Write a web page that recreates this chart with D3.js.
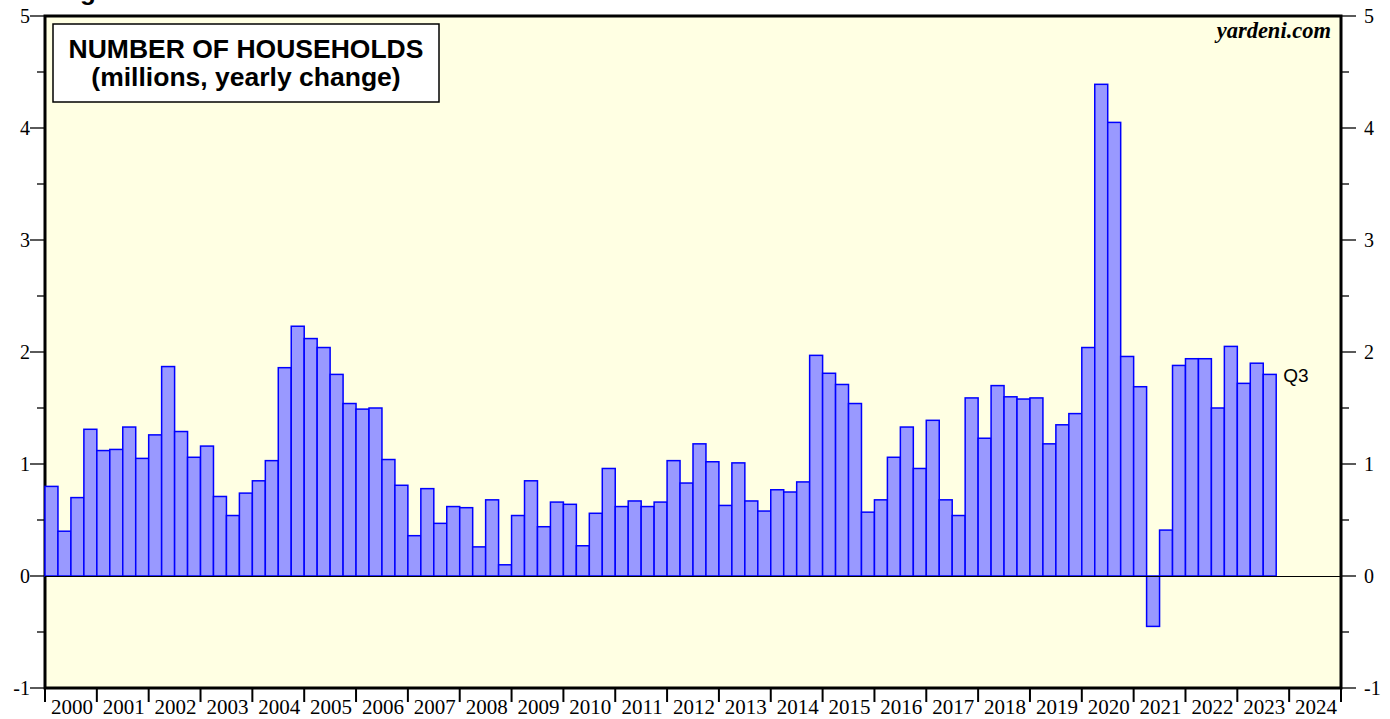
<!DOCTYPE html>
<html>
<head>
<meta charset="utf-8">
<script src="https://cdn.jsdelivr.net/npm/d3@7"></script>
<style>
  body { margin: 0; background: #fff; }
  svg { display: block; }
</style>
</head>
<body>
<svg id="chart" width="1390" height="719"></svg>
<script>
// quarterly yearly change in households, millions, starting 1999 Q4
var firstQuarter = 1999.75;
var values = [
  1.20,
  0.80, 0.40, 0.70, 1.31,
  1.12, 1.13, 1.33, 1.05,
  1.26, 1.87, 1.29, 1.06,
  1.16, 0.71, 0.54, 0.74,
  0.85, 1.03, 1.86, 2.23,
  2.12, 2.04, 1.80, 1.54,
  1.49, 1.50, 1.04, 0.81,
  0.36, 0.78, 0.47, 0.62,
  0.61, 0.26, 0.68, 0.10,
  0.54, 0.85, 0.44, 0.66,
  0.64, 0.27, 0.56, 0.96,
  0.62, 0.67, 0.62, 0.66,
  1.03, 0.83, 1.18, 1.02,
  0.63, 1.01, 0.67, 0.58,
  0.77, 0.75, 0.84, 1.97,
  1.81, 1.71, 1.54, 0.57,
  0.68, 1.06, 1.33, 0.96,
  1.39, 0.68, 0.54, 1.59,
  1.23, 1.70, 1.60, 1.58,
  1.59, 1.18, 1.35, 1.45,
  2.04, 4.39, 4.05, 1.96,
  1.69, -0.45, 0.41, 1.88,
  1.94, 1.94, 1.50, 2.05,
  1.72, 1.90, 1.80
];
var years = d3.range(2000, 2025);
var yMajor = [-1, 0, 1, 2, 3, 4, 5];
var yMinor = [-0.5, 0.5, 1.5, 2.5, 3.5, 4.5];

var svg = d3.select("#chart");
var plotL = 45, plotR = 1341, plotT = 16, plotB = 688;

var x = d3.scaleLinear().domain([2000, 2025]).range([plotL, plotR]);
var y = d3.scaleLinear().domain([-1, 5]).range([plotB, plotT]);

svg.append("defs").append("clipPath").attr("id", "plotclip")
  .append("rect").attr("x", plotL).attr("y", plotT)
  .attr("width", plotR - plotL).attr("height", plotB - plotT);

svg.append("rect")
  .attr("x", plotL).attr("y", plotT)
  .attr("width", plotR - plotL).attr("height", plotB - plotT)
  .attr("fill", "#ffffe3");

// frame (bars drawn over its left edge like the original)
svg.append("rect")
  .attr("x", plotL).attr("y", plotT)
  .attr("width", plotR - plotL).attr("height", plotB - plotT)
  .attr("fill", "none").attr("stroke", "#000").attr("stroke-width", 3);

// bars
svg.append("g")
  .selectAll("rect")
  .data(values)
  .enter()
  .append("rect")
    .attr("x", function(d, i){ return Math.max(plotL, x(firstQuarter + i / 4)) })
    .attr("width", function(d, i){ return x(firstQuarter + (i + 1) / 4) - Math.max(plotL, x(firstQuarter + i / 4)) })
    .attr("y", function(d){ return y(Math.max(0, d)) })
    .attr("height", function(d){ return Math.abs(y(d) - y(0)) })
    .attr("fill", "#9999ff")
    .attr("stroke", "#0000ff")
    .attr("stroke-width", 1.5);

// zero line
svg.append("line")
  .attr("x1", plotL).attr("x2", plotR)
  .attr("y1", y(0) + 0.5).attr("y2", y(0) + 0.5)
  .attr("stroke", "#000").attr("stroke-width", 1);

// y ticks both sides
var tickG = svg.append("g").attr("stroke", "#000").attr("stroke-width", 1.3);
yMajor.forEach(function(v){
  tickG.append("line").attr("x1", plotL - 15).attr("x2", plotL - 1).attr("y1", y(v)).attr("y2", y(v));
  tickG.append("line").attr("x1", plotR).attr("x2", plotR + 15).attr("y1", y(v)).attr("y2", y(v));
});
yMinor.forEach(function(v){
  tickG.append("line").attr("x1", plotL - 8).attr("x2", plotL - 1).attr("y1", y(v)).attr("y2", y(v));
  tickG.append("line").attr("x1", plotR).attr("x2", plotR + 8).attr("y1", y(v)).attr("y2", y(v));
});

svg.append("g").selectAll("text").data(yMajor).enter().append("text")
  .attr("x", 30).attr("y", function(d){ return y(d) + 7 })
  .attr("text-anchor", "end")
  .style("font-family", "'Liberation Serif', serif").style("font-size", "20px")
  .text(function(d){ return d });
svg.append("g").selectAll("text").data(yMajor).enter().append("text")
  .attr("x", 1364).attr("y", function(d){ return y(d) + 7 })
  .attr("text-anchor", "start")
  .style("font-family", "'Liberation Serif', serif").style("font-size", "20px")
  .text(function(d){ return d });

// year ticks and labels
var xg = svg.append("g");
years.concat([2025]).forEach(function(yr){
  xg.append("line").attr("x1", x(yr)).attr("x2", x(yr))
    .attr("y1", plotB).attr("y2", plotB + 14)
    .attr("stroke", "#000").attr("stroke-width", 2);
});
xg.selectAll("text").data(years).enter().append("text")
  .attr("x", function(d){ return x(d + 0.5) + 1 })
  .attr("y", 714)
  .attr("text-anchor", "middle")
  .style("font-family", "'Liberation Serif', serif").style("font-size", "21px")
  .text(function(d){ return d });

// title box
svg.append("rect")
  .attr("x", 53).attr("y", 24).attr("width", 386).attr("height", 78)
  .attr("fill", "#fff").attr("stroke", "#000").attr("stroke-width", 1.5);
svg.append("text").attr("x", 246).attr("y", 58)
  .attr("text-anchor", "middle")
  .style("font-family", "'Liberation Sans', Arial, sans-serif").style("font-size", "26.5px").style("font-weight", "bold")
  .text("NUMBER OF HOUSEHOLDS");
svg.append("text").attr("x", 246).attr("y", 86)
  .attr("text-anchor", "middle")
  .style("font-family", "'Liberation Sans', Arial, sans-serif").style("font-size", "26.5px").style("font-weight", "bold")
  .text("(millions, yearly change)");

svg.append("text").attr("x", 1331).attr("y", 38)
  .attr("text-anchor", "end")
  .style("font-family", "'Liberation Serif', serif").style("font-size", "22.5px")
  .style("font-weight", "bold").style("font-style", "italic")
  .text("yardeni.com");

svg.append("text").attr("x", 57).attr("y", 0)
  .style("font-family", "'Liberation Sans', Arial, sans-serif").style("font-size", "26px").style("font-weight", "bold")
  .text("Figure 3");

svg.append("text")
  .attr("x", x(firstQuarter + values.length / 4) + 7)
  .attr("y", y(values[values.length - 1]) + 8)
  .style("font-family", "'Liberation Sans', Arial, sans-serif").style("font-size", "19px")
  .text("Q3");
</script>
</body>
</html>
